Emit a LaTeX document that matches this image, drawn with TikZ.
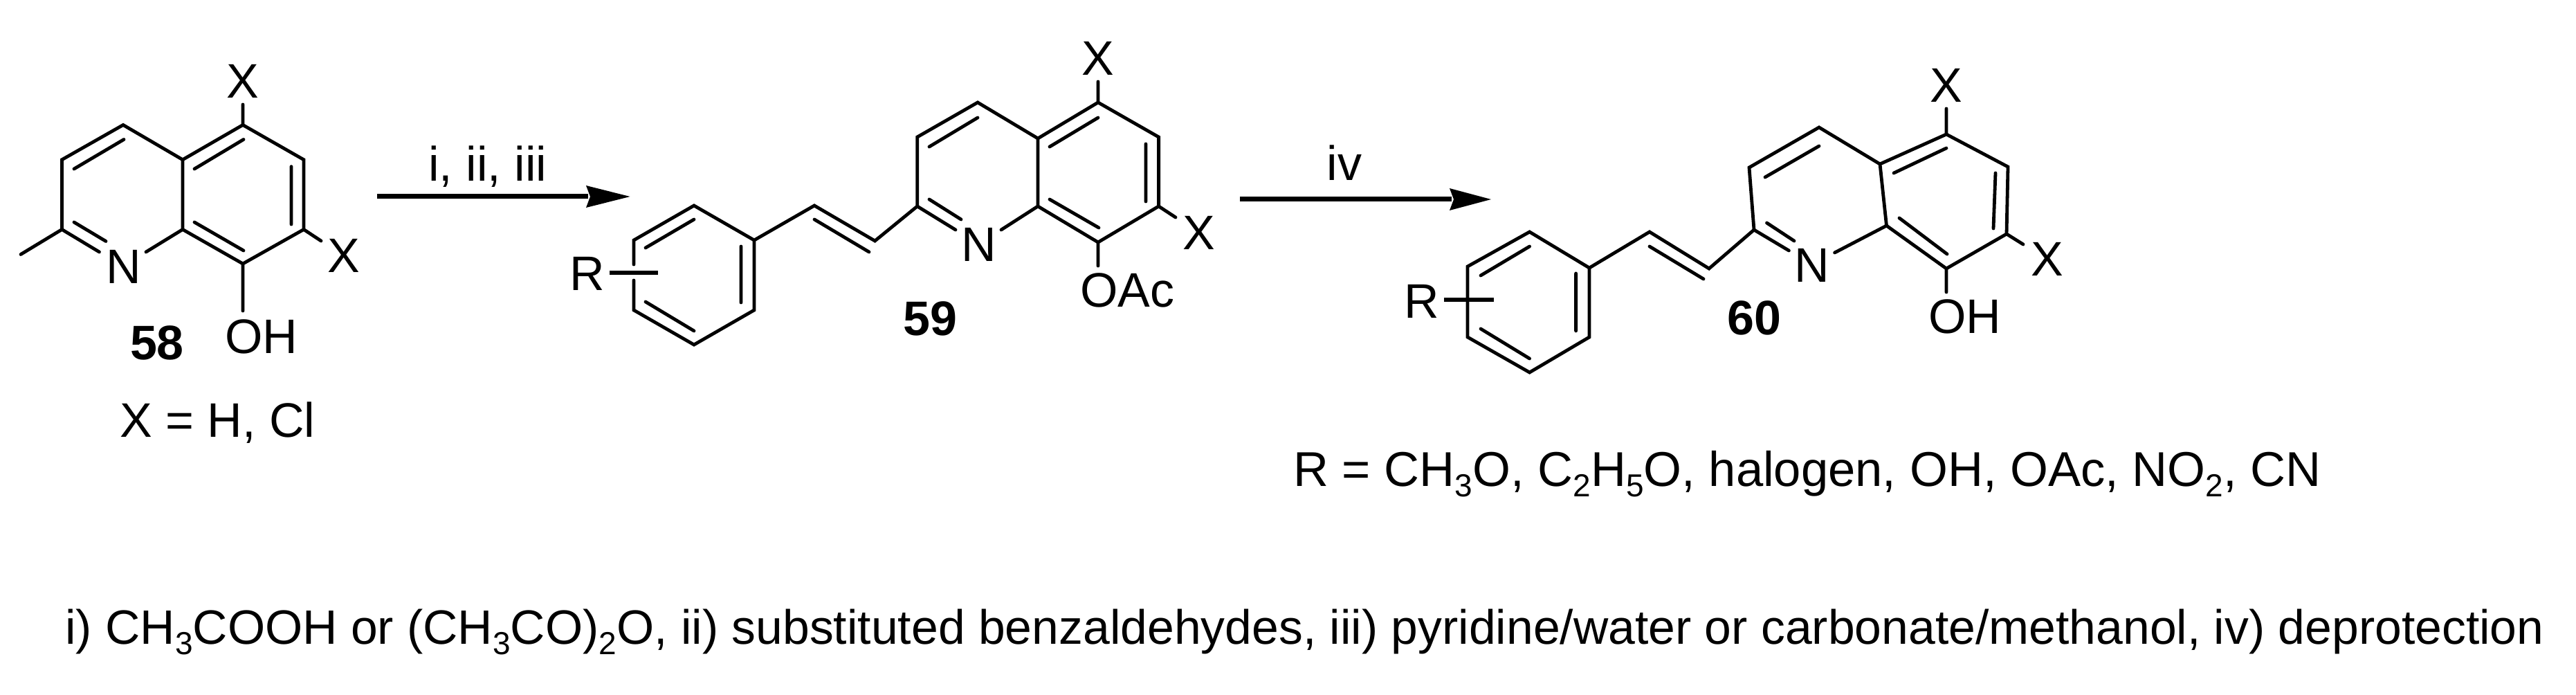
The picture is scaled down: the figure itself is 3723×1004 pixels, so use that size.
\documentclass[tikz,border=0pt]{standalone}
\usepackage{fontspec}
\setmainfont{Liberation Sans}
\newcommand{\chemfont}{\fontsize{35}{40}\selectfont}
\newcommand{\chemsub}[1]{\raisebox{-7.5pt}{\fontsize{23}{23}\selectfont #1}}
\tikzset{x=0.5pt,y=-0.5pt,
 bond/.style={line width=2.4pt,line cap=round,line join=miter},
 thick bond/.style={line width=3pt},
 rxn/.style={line width=3.5pt},
 head/.style={fill=black,draw=none},
 lab/.style={inner sep=0pt,font=\chemfont,text=black},
 caption r/.style={inner sep=0pt,font=\fontsize{35.3}{40}\selectfont,text=black},
 caption c/.style={inner sep=0pt,font=\fontsize{34.85}{40}\selectfont,text=black},
 cmpd/.style={inner sep=0pt,font=\chemfont\bfseries,text=black}}
\begin{document}
\begin{tikzpicture}
\useasboundingbox (0,0) rectangle (3723,1004);
% compound 58
\coordinate (Aa) at (89.5,230.7);\coordinate (Ab) at (178,180.5);\coordinate (Ac) at (264,230.7);\coordinate (Ad) at (351,180.5);\coordinate (Ae) at (439,230.7);\coordinate (Af) at (439,331.5);\coordinate (Ag) at (351,381);\coordinate (Ah) at (264,331.5);\coordinate (Ai) at (89.5,331.5);
\coordinate (Ame) at (30,367.5);\coordinate (An1) at (143.5,364);\coordinate (An2) at (211,364);\coordinate (Ax1) at (351,151);\coordinate (Ax2) at (464,348);\coordinate (Ao) at (351,449);
\coordinate (Aab1) at (107,244);\coordinate (Aab2) at (179,201.5);\coordinate (Acd1) at (281,244);\coordinate (Acd2) at (352,201.5);\coordinate (Aef1) at (421,240.6);\coordinate (Aef2) at (421,324);\coordinate (Agh1) at (281,321);\coordinate (Agh2) at (352,362);\coordinate (Ain1) at (107,321);\coordinate (Ain2) at (153,348.5);
\draw[bond] (An1)--(Ai)--(Aa)--(Ab)--(Ac)--(Ad)--(Ae)--(Af)--(Ag)--(Ah)--(An2) (Ac)--(Ah) (Ai)--(Ame) (Ad)--(Ax1) (Af)--(Ax2) (Ag)--(Ao)
 (Aab1)--(Aab2) (Acd1)--(Acd2) (Aef1)--(Aef2) (Agh1)--(Agh2) (Ain1)--(Ain2);
\node[lab] (An) at (178.5,385) {N};
\node[lab] (Axa) at (351,117) {X};
\node[lab] (Axb) at (497,369) {X};
\node[lab,anchor=base west] (Aoh) at (325,510.6) {OH};
\node[cmpd] (A58) at (227,495) {58};
\node[lab,anchor=base west] (Adef) at (173,632) {X = H, Cl};
% arrow 1
\coordinate (R1s) at (545,284);\coordinate (R1e) at (850,284);\coordinate (R1t) at (910.5,284);\coordinate (R1u) at (847,268);\coordinate (R1d) at (847,300);\coordinate (R1n) at (853,284);
\draw[rxn] (R1s)--(R1e);
\fill[head] (R1t)--(R1u)--(R1n)--(R1d)--cycle;
\node[lab,anchor=base west] (R1l) at (619,261.6) {i, ii, iii};
% compound 59
\coordinate (Ba) at (1325.7,198);\coordinate (Bb) at (1413,148);\coordinate (Bc) at (1500,200);\coordinate (Bd) at (1587,148);\coordinate (Be) at (1674.6,198);\coordinate (Bf) at (1674.6,298);\coordinate (Bg) at (1587,350);\coordinate (Bh) at (1500,298);\coordinate (Bi) at (1325.7,298);
\coordinate (Bv1) at (1264.5,348);\coordinate (Bv2) at (1177,297);\coordinate (Bp) at (1090,347);\coordinate (Bq) at (1003,297);\coordinate (Br) at (916,347);\coordinate (Bs) at (916,448);\coordinate (Bt) at (1003,498);\coordinate (Bu) at (1090,448);
\coordinate (Bn1) at (1381,332);\coordinate (Bn2) at (1447,332);\coordinate (Bx1) at (1587,118);\coordinate (Bx2) at (1699,314);\coordinate (Bo) at (1587,384);
\coordinate (Brg1) at (916,382);\coordinate (Brg2) at (916,405);\coordinate (Brb1) at (880.6,394);\coordinate (Brb2) at (951,394);
\coordinate (B11) at (1343,212);\coordinate (B12) at (1413,170);\coordinate (B21) at (1517,212);\coordinate (B22) at (1587,170);\coordinate (B31) at (1656,208);\coordinate (B32) at (1656,291);\coordinate (B41) at (1517,288);\coordinate (B42) at (1588,329);\coordinate (B51) at (1343,288);\coordinate (B52) at (1389,317);\coordinate (B61) at (1177,317);\coordinate (B62) at (1256,364);\coordinate (B71) at (933,358);\coordinate (B72) at (1003,317);\coordinate (B81) at (1071,356);\coordinate (B82) at (1071,437);\coordinate (B91) at (933,436);\coordinate (B92) at (1003,478);
\draw[bond] (Bn1)--(Bi)--(Ba)--(Bb)--(Bc)--(Bd)--(Be)--(Bf)--(Bg)--(Bh)--(Bn2) (Bc)--(Bh) (Bd)--(Bx1) (Bf)--(Bx2) (Bg)--(Bo)
 (Bi)--(Bv1)--(Bv2)--(Bp)--(Bq)--(Br)--(Brg1) (Brg2)--(Bs)--(Bt)--(Bu)--(Bp)
 (B11)--(B12) (B21)--(B22) (B31)--(B32) (B41)--(B42) (B51)--(B52) (B61)--(B62) (B71)--(B72) (B81)--(B82) (B91)--(B92);
\draw[thick bond] (Brb1)--(Brb2);
\node[lab] (Bnn) at (1415,353) {N};
\node[lab] (Bxa) at (1587,84) {X};
\node[lab] (Bxb) at (1733,336) {X};
\node[lab,anchor=base west] (Boac) at (1561,444) {OAc};
\node[lab] (BR) at (849,395) {R};
\node[cmpd] (B59) at (1344,460) {59};
% arrow 2
\coordinate (R2s) at (1792,288);\coordinate (R2e) at (2098,288);\coordinate (R2t) at (2155,288);\coordinate (R2u) at (2095,272);\coordinate (R2d) at (2095,304);\coordinate (R2n) at (2101,288);
\draw[rxn] (R2s)--(R2e);
\fill[head] (R2t)--(R2u)--(R2n)--(R2d)--cycle;
\node[lab,anchor=base] (R2l) at (1943,261) {iv};
% compound 60
\coordinate (Ca) at (2528,242);\coordinate (Cb) at (2629,184);\coordinate (Cc) at (2717,237);\coordinate (Cd) at (2813,194);\coordinate (Ce) at (2902,241);\coordinate (Cf) at (2900,338);\coordinate (Cg) at (2813,388);\coordinate (Ch) at (2726.5,326);\coordinate (Ci) at (2535,332);
\coordinate (Cv1) at (2470,388);\coordinate (Cv2) at (2384,335);\coordinate (Cp) at (2297,387);\coordinate (Cq) at (2210.6,335);\coordinate (Cr) at (2121,385);\coordinate (Cs) at (2121,487);\coordinate (Ct) at (2210.6,538);\coordinate (Cu) at (2297,487);
\coordinate (Cn1) at (2585.4,362);\coordinate (Cn2) at (2651.6,365);\coordinate (Cx1) at (2813,157);\coordinate (Cx2) at (2924,353);\coordinate (Co) at (2813,422);
\coordinate (Crb1) at (2087,433);\coordinate (Crb2) at (2159,433);
\coordinate (C11) at (2551,256);\coordinate (C12) at (2629,211);\coordinate (C21) at (2737,250);\coordinate (C22) at (2813,214);\coordinate (C31) at (2884,250);\coordinate (C32) at (2881,330);\coordinate (C41) at (2814,367);\coordinate (C42) at (2745,315);\coordinate (C51) at (2553.5,322);\coordinate (C52) at (2593,348);\coordinate (C61) at (2384,356);\coordinate (C62) at (2462,403);\coordinate (C71) at (2140,398);\coordinate (C72) at (2210.6,356);\coordinate (C81) at (2277.6,395);\coordinate (C82) at (2277.6,478);\coordinate (C91) at (2140,475);\coordinate (C92) at (2210.6,518);
\draw[bond] (Cn1)--(Ci)--(Ca)--(Cb)--(Cc)--(Cd)--(Ce)--(Cf)--(Cg)--(Ch)--(Cn2) (Cc)--(Ch) (Cd)--(Cx1) (Cf)--(Cx2) (Cg)--(Co)
 (Ci)--(Cv1)--(Cv2)--(Cp)--(Cq)--(Cr)--(Cs)--(Ct)--(Cu)--(Cp)
 (C11)--(C12) (C21)--(C22) (C31)--(C32) (C41)--(C42) (C51)--(C52) (C61)--(C62) (C71)--(C72) (C81)--(C82) (C91)--(C92);
\draw[thick bond] (Crb1)--(Crb2);
\node[lab] (Cnn) at (2619,383) {N};
\node[lab] (Cxa) at (2813,123) {X};
\node[lab] (Cxb) at (2959,374) {X};
\node[lab,anchor=base west] (Coh) at (2787,482) {OH};
\node[lab] (CR) at (2055,435) {R};
\node[cmpd] (C60) at (2535,459) {60};
% captions
\node[caption r,anchor=base west] (Rdef) at (1869,703) {R = CH\chemsub{3}O, C\chemsub{2}H\chemsub{5}O, halogen, OH, OAc, NO\chemsub{2}, CN};
\node[caption c,anchor=base west] (Cond) at (94,931) {i) CH\chemsub{3}COOH or (CH\chemsub{3}CO)\chemsub{2}O, ii) substituted benzaldehydes, iii) pyridine/water or carbonate/methanol, iv) deprotection};
\end{tikzpicture}
\end{document}
